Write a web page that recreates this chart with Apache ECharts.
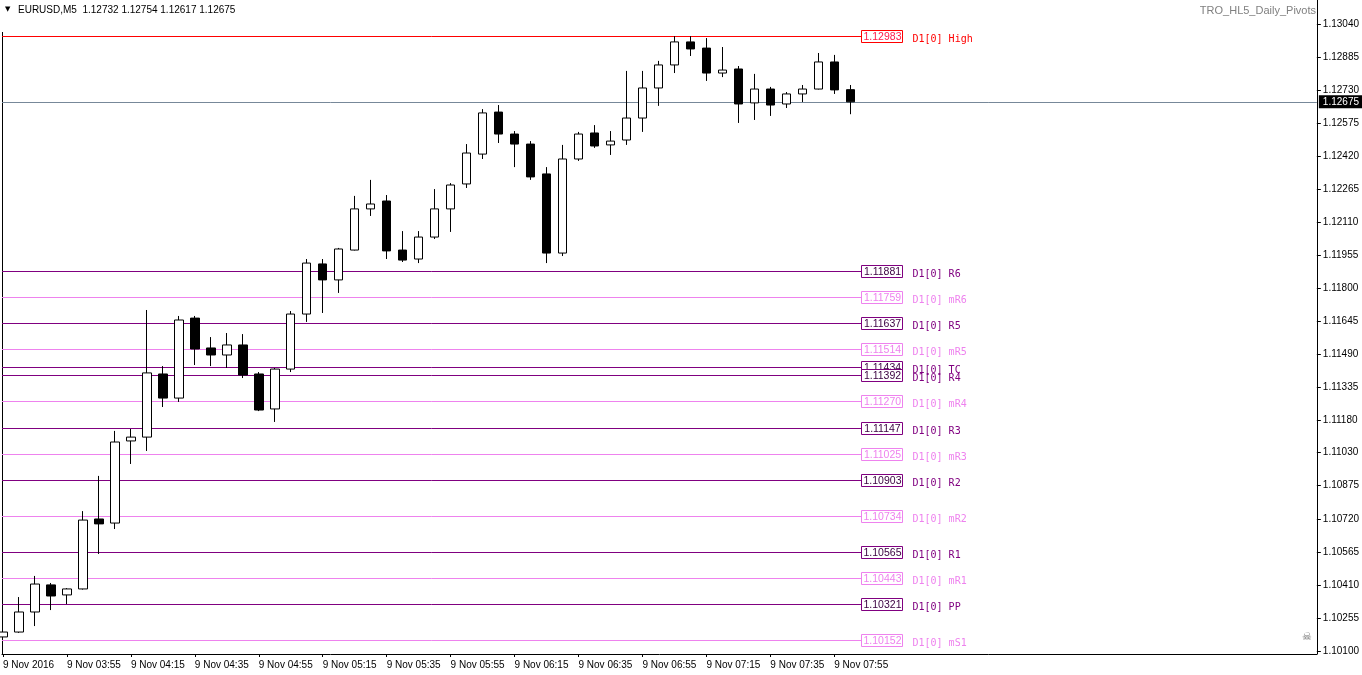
<!DOCTYPE html>
<html>
<head>
<meta charset="utf-8">
<title>EURUSD,M5 TRO_HL5_Daily_Pivots</title>
<script src="https://cdn.jsdelivr.net/npm/echarts@6/dist/echarts.min.js"></script>
<style>
  html, body { margin: 0; padding: 0; background: #fff; }
  #chart { width: 1362px; height: 675px; }
</style>
</head>
<body>
<div id="chart"></div>
<script>
// 5 minute bars, 9 Nov 2016
const times = [
  '03:35', '03:40', '03:45', '03:50', '03:55', '04:00', '04:05', '04:10', '04:15', '04:20',
  '04:25', '04:30', '04:35', '04:40', '04:45', '04:50', '04:55', '05:00', '05:05', '05:10',
  '05:15', '05:20', '05:25', '05:30', '05:35', '05:40', '05:45', '05:50', '05:55', '06:00',
  '06:05', '06:10', '06:15', '06:20', '06:25', '06:30', '06:35', '06:40', '06:45', '06:50',
  '06:55', '07:00', '07:05', '07:10', '07:15', '07:20', '07:25', '07:30', '07:35', '07:40',
  '07:45', '07:50', '07:55', '08:00'
];
const opens = [
  1.10166, 1.10189, 1.10283, 1.10410, 1.10363, 1.10391, 1.10719, 1.10700, 1.11085, 1.11103,
  1.11399, 1.11286, 1.11661, 1.11521, 1.11488, 1.11535, 1.11399, 1.11235, 1.11422, 1.11680,
  1.11915, 1.11840, 1.11980, 1.12173, 1.12210, 1.11980, 1.11938, 1.12041, 1.12173, 1.12290,
  1.12430, 1.12627, 1.12524, 1.12477, 1.12337, 1.11966, 1.12407, 1.12529, 1.12473, 1.12496,
  1.12599, 1.12740, 1.12848, 1.12956, 1.12927, 1.12810, 1.12829, 1.12670, 1.12735, 1.12665,
  1.12712, 1.12735, 1.12862, 1.12732
];
const closes = [
  1.10189, 1.10283, 1.10414, 1.10358, 1.10391, 1.10714, 1.10696, 1.11080, 1.11103, 1.11404,
  1.11286, 1.11652, 1.11516, 1.11488, 1.11535, 1.11394, 1.11230, 1.11422, 1.11680, 1.11919,
  1.11840, 1.11985, 1.12173, 1.12196, 1.11976, 1.11933, 1.12041, 1.12173, 1.12285, 1.12435,
  1.12623, 1.12524, 1.12477, 1.12323, 1.11966, 1.12407, 1.12524, 1.12468, 1.12491, 1.12599,
  1.12740, 1.12848, 1.12956, 1.12923, 1.12810, 1.12824, 1.12665, 1.12735, 1.12660, 1.12712,
  1.12735, 1.12862, 1.12731, 1.12675
];
const lows = [
  1.10156, 1.10185, 1.10217, 1.10292, 1.10320, 1.10388, 1.10555, 1.10672, 1.10977, 1.11038,
  1.11244, 1.11268, 1.11441, 1.11436, 1.11427, 1.11380, 1.11225, 1.11174, 1.11408, 1.11643,
  1.11685, 1.11779, 1.11978, 1.12140, 1.11938, 1.11924, 1.11919, 1.12032, 1.12065, 1.12271,
  1.12407, 1.12482, 1.12369, 1.12309, 1.11919, 1.11952, 1.12398, 1.12459, 1.12426, 1.12473,
  1.12534, 1.12656, 1.12810, 1.12890, 1.12773, 1.12791, 1.12576, 1.12590, 1.12609, 1.12646,
  1.12674, 1.12733, 1.12712, 1.12617
];
const highs = [
  1.10213, 1.10353, 1.10452, 1.10419, 1.10395, 1.10756, 1.10921, 1.11132, 1.11141, 1.11699,
  1.11436, 1.11671, 1.11671, 1.11572, 1.11591, 1.11586, 1.11408, 1.11427, 1.11694, 1.11938,
  1.11938, 1.11990, 1.12234, 1.12309, 1.12238, 1.12069, 1.12069, 1.12266, 1.12294, 1.12477,
  1.12641, 1.12660, 1.12538, 1.12491, 1.12369, 1.12473, 1.12534, 1.12566, 1.12538, 1.12820,
  1.12820, 1.12867, 1.12983, 1.12983, 1.12974, 1.12932, 1.12843, 1.12806, 1.12745, 1.12721,
  1.12754, 1.12904, 1.12895, 1.12754
];

// daily pivot levels
const levelNames = ['High', 'R6', 'mR6', 'R5', 'mR5', 'TC', 'R4', 'mR4', 'R3', 'mR3', 'R2', 'mR2', 'R1', 'mR1', 'PP', 'mS1'];
const levelValues = [1.12983, 1.11881, 1.11759, 1.11637, 1.11514, 1.11434, 1.11392, 1.11270, 1.11147, 1.11025, 1.10903, 1.10734, 1.10565, 1.10443, 1.10321, 1.10152];

// price scale labels
const priceTicks = [
  '1.10100', '1.10255', '1.10410', '1.10565', '1.10720', '1.10875', '1.11030', '1.11180', '1.11335', '1.11490',
  '1.11645', '1.11800', '1.11955', '1.12110', '1.12265', '1.12420', '1.12575', '1.12730', '1.12885', '1.13040'
];

const lastIdx = times.length - 1;
const candleData = times.map((t, i) => [i, opens[i], closes[i], lows[i], highs[i]]);
const timeTicks = times.map((t, i) => i).filter(i => i % 4 === 0);

function levelColors (name) {
  if (name === 'High') return { line: '#ff0000', num: '#ff1a4a', text: '#ff0000' };
  if (name.charAt(0) === 'm') return { line: '#ee82ee', num: '#ee82ee', text: '#ee82ee' };
  return { line: '#800080', num: '#3a0040', text: '#800080' };
}

const chart = echarts.init(document.getElementById('chart'));
chart.setOption({
  animation: false,
  backgroundColor: '#fff',
  textStyle: { fontFamily: 'Liberation Sans' },
  grid: { left: 2, right: 44, top: 0, bottom: 21 },
  xAxis: {
    type: 'value',
    min: -0.0625,
    max: 82.1875,
    axisLine: { show: true, onZero: false, lineStyle: { color: '#000', width: 1 } },
    axisTick: { show: true, customValues: timeTicks, length: 3, lineStyle: { color: '#000' } },
    axisLabel: {
      customValues: timeTicks,
      align: 'left',
      margin: 6,
      color: '#000',
      fontSize: 10,
      fontFamily: 'Liberation Sans',
      formatter: v => v === 0 ? '9 Nov 2016' : '9 Nov ' + times[v]
    },
    splitLine: { show: false }
  },
  yAxis: {
    type: 'value',
    position: 'right',
    min: 1.10086,
    max: 1.131525,
    axisLine: { show: true, onZero: false, lineStyle: { color: '#000', width: 1 } },
    axisTick: { show: true, inside: false, length: 4, customValues: priceTicks.map(Number), lineStyle: { color: '#000' } },
    axisLabel: {
      customValues: priceTicks.map(Number),
      margin: 6,
      color: '#000',
      fontSize: 10,
      fontFamily: 'Liberation Sans',
      formatter: v => v.toFixed(5)
    },
    splitLine: { show: false }
  },
  series: [
    {
      name: 'levels',
      type: 'custom',
      z: 1,
      silent: true,
      data: levelValues.map((v, i) => [lastIdx, v, i]),
      encode: { x: 0, y: 1 },
      renderItem: (params, api) => {
        const name = levelNames[api.value(2)];
        const price = api.value(1);
        const pt = api.coord([api.value(0), price]);
        const c = levelColors(name);
        const y = Math.round(pt[1]) + 0.5;
        const boxX = Math.round(pt[0]) + 11.5;
        return {
          type: 'group',
          children: [
            { type: 'line', shape: { x1: params.coordSys.x, y1: y, x2: boxX, y2: y }, style: { stroke: c.line, lineWidth: 1 } },
            { type: 'rect', shape: { x: boxX, y: y - 6, width: 41, height: 12 }, style: { fill: '#fff', stroke: c.line, lineWidth: 1 } },
            { type: 'text', style: { x: boxX + 21, y: y + 0.5, text: price.toFixed(5), fill: c.num, font: '10.5px "Liberation Sans"', align: 'center', verticalAlign: 'middle' } },
            { type: 'text', style: { x: boxX + 51, y: y + 3, text: 'D1[0] ' + name, fill: c.text, font: '10px "DejaVu Sans Mono"', align: 'left', verticalAlign: 'middle' } }
          ]
        };
      }
    },
    {
      name: 'EURUSD,M5',
      type: 'candlestick',
      z: 3,
      data: candleData,
      encode: { x: 0, y: [1, 2, 3, 4] },
      barWidth: 9,
      itemStyle: {
        color: '#fff',
        color0: '#000',
        borderColor: '#000',
        borderColor0: '#000',
        borderColorDoji: '#000',
        borderWidth: 1
      },
      markLine: {
        silent: true,
        symbol: 'none',
        precision: 5,
        z: 1,
        lineStyle: { color: '#778899', width: 1, type: 'solid' },
        label: {
          show: true,
          position: 'end',
          distance: 2,
          backgroundColor: '#000',
          color: '#fff',
          fontSize: 10,
          fontFamily: 'Liberation Sans',
          padding: [2, 4, 1, 4],
          formatter: p => Number(p.value).toFixed(5)
        },
        data: [{ yAxis: closes[lastIdx] }]
      }
    }
  ],
  graphic: [
    { type: 'line', silent: true, shape: { x1: 2.5, y1: 32, x2: 2.5, y2: 654 }, style: { stroke: '#000', lineWidth: 1 } },
    { type: 'text', left: 5, top: 6, style: { text: '▼', fill: '#000', font: '7px "DejaVu Sans"' } },
    { type: 'text', left: 18, top: 5, style: { text: 'EURUSD,M5  ' + [opens[lastIdx], highs[lastIdx], lows[lastIdx], closes[lastIdx]].map(v => v.toFixed(5)).join(' '), fill: '#000', font: '10px "Liberation Sans"' } },
    { type: 'text', right: 46, top: 5, style: { text: 'TRO_HL5_Daily_Pivots', fill: '#808080', font: '11px "Liberation Sans"' } },
    { type: 'text', left: 1302, top: 632, style: { text: '☠', fill: '#707070', font: '11px "DejaVu Sans"' } }
  ]
});
</script>
</body>
</html>
